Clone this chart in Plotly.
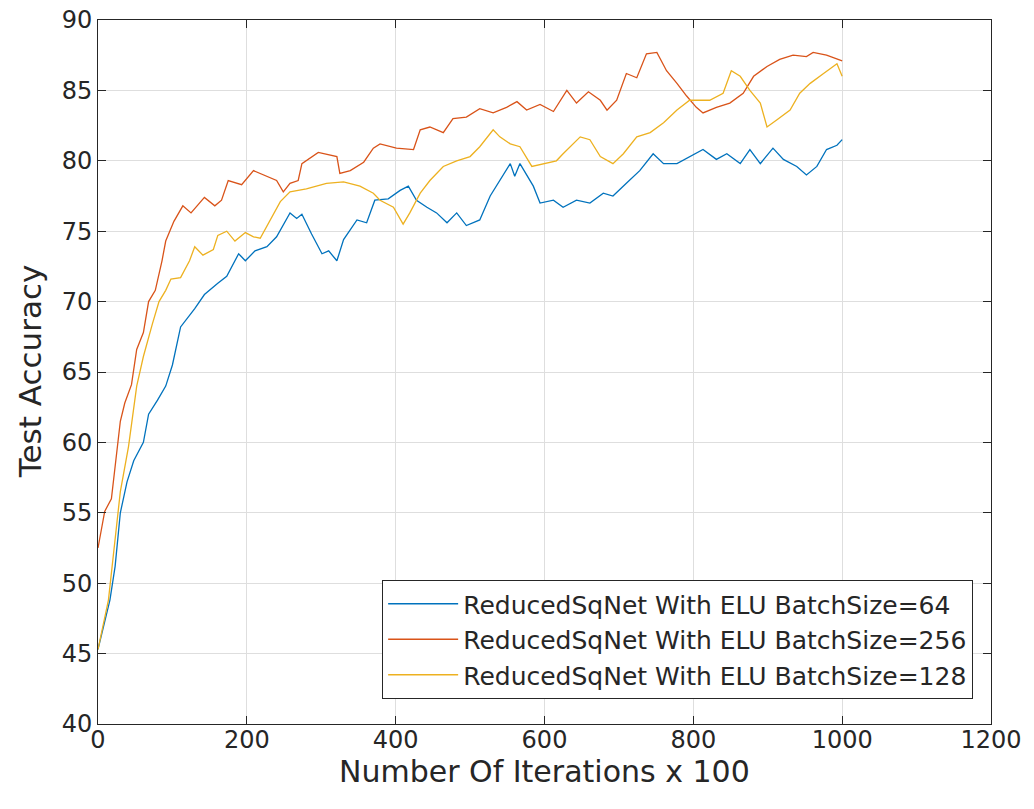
import plotly.graph_objects as go

# BatchSize=64 (blue)
x_bs64 = [0, 8, 16, 23, 30, 39, 48, 61, 68, 80, 91, 100, 111, 130, 143, 161, 173, 189, 198, 211,
          227, 240, 258, 267, 274, 287, 301, 310, 321, 330, 348, 361, 372, 390, 406, 417, 428, 442, 455, 469,
          482, 495, 513, 527, 540, 554, 560, 567, 585, 594, 612, 625, 643, 661, 679, 692, 710, 728, 746, 760,
          778, 795, 813, 831, 845, 863, 876, 890, 907, 921, 939, 952, 966, 979, 993, 1000]
y_bs64 = [45.3, 47.0, 48.8, 51.2, 55.0, 57.2, 58.7, 60.0, 62.0, 63.0, 64.0, 65.5, 68.2, 69.5, 70.5, 71.3, 71.8, 73.4, 72.9, 73.6,
          73.9, 74.6, 76.3, 75.9, 76.2, 74.8, 73.4, 73.6, 72.9, 74.4, 75.8, 75.6, 77.2, 77.3, 77.9, 78.2, 77.2, 76.7, 76.3, 75.6,
          76.3, 75.4, 75.8, 77.5, 78.6, 79.8, 78.9, 79.8, 78.2, 77.0, 77.2, 76.7, 77.2, 77.0, 77.7, 77.5, 78.4, 79.3, 80.5, 79.8,
          79.8, 80.3, 80.8, 80.1, 80.5, 79.8, 80.8, 79.8, 80.9, 80.1, 79.6, 79.0, 79.6, 80.8, 81.1, 81.5]

# BatchSize=256 (orange)
x_bs256 = [0, 9, 18, 30, 36, 45, 52, 61, 68, 77, 86, 91, 102, 114, 125, 143, 157, 166, 175, 193,
           209, 227, 240, 249, 258, 269, 274, 296, 312, 321, 325, 339, 357, 370, 379, 401, 424, 433, 446, 464,
           477, 495, 513, 531, 549, 563, 576, 594, 612, 630, 643, 659, 675, 684, 697, 710, 724, 737, 751, 764,
           778, 791, 804, 813, 831, 849, 867, 881, 899, 916, 934, 952, 961, 979, 1000]
y_bs256 = [52.5, 55.1, 56.0, 61.5, 62.8, 64.1, 66.6, 67.8, 70.0, 70.8, 72.9, 74.3, 75.7, 76.8, 76.3, 77.4, 76.8, 77.2, 78.6, 78.3,
           79.3, 78.9, 78.6, 77.8, 78.4, 78.6, 79.8, 80.6, 80.4, 80.3, 79.1, 79.3, 79.9, 80.9, 81.2, 80.9, 80.8, 82.2, 82.4, 82.0,
           83.0, 83.1, 83.7, 83.4, 83.8, 84.2, 83.6, 84.0, 83.5, 85.0, 84.1, 84.9, 84.3, 83.6, 84.3, 86.2, 85.9, 87.6, 87.7, 86.4,
           85.5, 84.6, 83.8, 83.4, 83.8, 84.1, 84.8, 86.0, 86.7, 87.2, 87.5, 87.4, 87.7, 87.5, 87.1]

# BatchSize=128 (yellow)
x_bs128 = [0, 14, 30, 41, 52, 61, 73, 82, 91, 98, 111, 123, 130, 141, 155, 161, 173, 184, 198, 209,
           218, 231, 245, 258, 280, 307, 330, 352, 370, 379, 397, 410, 419, 433, 446, 464, 482, 500, 513, 531,
           540, 554, 567, 583, 598, 616, 625, 648, 661, 675, 692, 706, 724, 742, 760, 778, 795, 822, 840, 851,
           863, 876, 890, 899, 912, 930, 943, 957, 975, 993, 1000]
y_bs128 = [45.3, 48.8, 56.5, 59.7, 64.0, 66.1, 68.4, 70.0, 70.8, 71.6, 71.7, 72.9, 73.9, 73.3, 73.7, 74.7, 75.0, 74.3, 74.9, 74.6,
           74.5, 75.8, 77.1, 77.8, 78.0, 78.4, 78.5, 78.2, 77.7, 77.2, 76.7, 75.5, 76.3, 77.7, 78.6, 79.6, 80.0, 80.3, 81.0, 82.2,
           81.7, 81.2, 81.0, 79.6, 79.8, 80.0, 80.5, 81.7, 81.5, 80.3, 79.8, 80.5, 81.7, 82.0, 82.7, 83.6, 84.3, 84.3, 84.8, 86.4,
           86.0, 85.0, 84.1, 82.4, 82.9, 83.6, 84.8, 85.5, 86.2, 86.9, 86.0]

series_names = ["ReducedSqNet With ELU BatchSize=64",
                "ReducedSqNet With ELU BatchSize=256",
                "ReducedSqNet With ELU BatchSize=128"]
series_colors = ["#0072BD", "#D95319", "#EDB120"]

x_ticks = [0, 200, 400, 600, 800, 1000, 1200]
y_ticks = [40, 45, 50, 55, 60, 65, 70, 75, 80, 85, 90]
x_title = "Number Of Iterations x 100"
y_title = "Test Accuracy"

fig = go.Figure()
for xs, ys, name, col in zip([x_bs64, x_bs256, x_bs128], [y_bs64, y_bs256, y_bs128],
                             series_names, series_colors):
    fig.add_trace(go.Scatter(x=xs, y=ys, mode="lines", name=name,
                             line=dict(color=col, width=1.3)))

axis_common = dict(
    showline=True, linecolor="#262626", linewidth=1, mirror="ticks",
    ticks="inside", ticklen=8, tickcolor="#262626", tickwidth=1,
    showgrid=True, gridcolor="#dedede", gridwidth=1, zeroline=False,
    automargin=False, ticklabeloverflow="allow",
    tickfont=dict(family="DejaVu Sans", size=24, color="#262626"),
)

fig.update_xaxes(range=[0, 1200], tickvals=x_ticks, ticklabelstandoff=-6, **axis_common)
fig.update_yaxes(range=[40, 90], tickvals=y_ticks, **axis_common)

fig.add_annotation(text=x_title, xref="paper", yref="paper", x=0.5, y=-0.067,
                   xanchor="center", yanchor="middle", showarrow=False,
                   font=dict(family="DejaVu Sans", size=30, color="#262626"))
fig.add_annotation(text=y_title, xref="paper", yref="paper", x=-0.076, y=0.5,
                   xanchor="center", yanchor="middle", textangle=-90, showarrow=False,
                   font=dict(family="DejaVu Sans", size=31, color="#262626"))

fig.update_layout(
    width=1034, height=809,
    margin=dict(l=98, r=43, t=20, b=85, autoexpand=False),
    paper_bgcolor="white", plot_bgcolor="white",
    font=dict(family="DejaVu Sans", color="#262626"),
    legend=dict(x=0.98, y=0.0355, xanchor="right", yanchor="bottom",
                bgcolor="white", bordercolor="#262626", borderwidth=1,
                font=dict(family="DejaVu Sans", size=25, color="#262626"),
                itemwidth=70, tracegroupgap=0),
    showlegend=True,
)

fig.write_html("out.html", config={"displayModeBar": False},
               post_script="document.body.style.margin='0';document.body.style.overflow='hidden';")
